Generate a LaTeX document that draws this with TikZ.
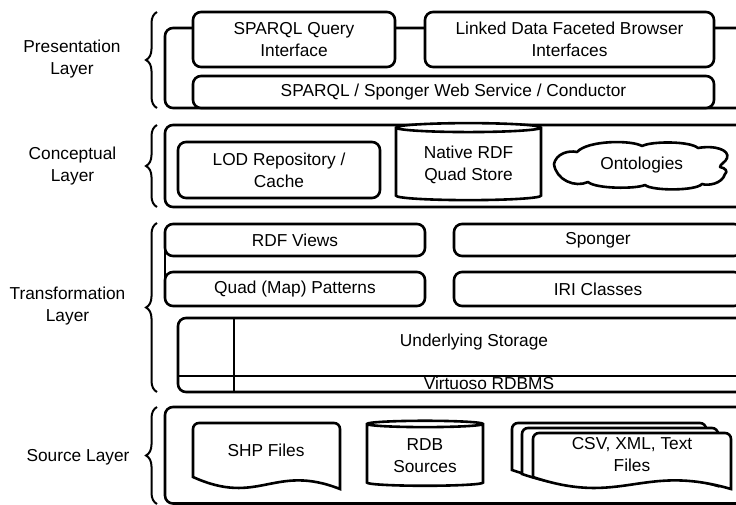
\documentclass[tikz,border=0pt]{standalone}
\usepackage{fontspec}
\setmainfont{Liberation Sans}
\usetikzlibrary{shapes.geometric,decorations.pathreplacing}

\tikzset{
  box/.style={draw, line width=2.6pt, rounded corners=8pt, fill=white,
    align=center, inner sep=0pt},
  frame/.style={draw, line width=2.6pt, rounded corners=8pt},
  db/.style={draw, line width=2.6pt, cylinder, shape border rotate=90,
    aspect=0.1, fill=white, align=center, inner sep=0pt},
  doc/.style={draw, line width=2.6pt, fill=white},
  layerbrace/.style={draw, line width=2pt, decorate,
    decoration={brace, amplitude=11pt}},
}

% document shape: x, y, width, height of left side
\newcommand{\docshape}[4]{
  \draw[doc] (#1,#2+#4) [rounded corners=6pt]-- (#1,#2) -- (#1+#3,#2)
    [sharp corners]-- (#1+#3,#2+#4+12)
    .. controls (#1+0.55*#3,#2+#4-14) and (#1+0.45*#3,#2+#4+30) .. (#1,#2+#4)
    -- cycle;
}

\begin{document}
\begin{tikzpicture}[x=1pt, y=-1pt, font=\fontsize{17.3}{22}\selectfont]
  \useasboundingbox (0,0) rectangle (736,504);
  \clip (0,0) rectangle (736,504);

  % layer names
  \node[align=center] (pres) at (72,59) {Presentation\\Layer};
  \node[align=center] (concept) at (72.5,166) {Conceptual\\Layer};
  \node[align=center] (transf) at (67.5,306) {Transformation\\Layer};
  \node (source) at (78,457) {Source Layer};

  \draw[layerbrace] (157,108) -- (157,12);
  \draw[layerbrace] (157,207) -- (157,125);
  \draw[layerbrace] (157,392) -- (157,223);
  \draw[layerbrace] (157,504) -- (157,407);

  % presentation
  \draw[frame] (165,28) rectangle (760,108);
  \node[box, minimum width=202pt, minimum height=55pt] (query) at (294,39.5) {SPARQL Query\\Interface};
  \node[box, minimum width=289pt, minimum height=55pt] (browser) at (569.5,39.5) {Linked Data Faceted Browser\\Interfaces};
  \node[box, minimum width=521pt, minimum height=32pt] (service) at (453.5,92) {SPARQL / Sponger Web Service / Conductor};

  % conceptual
  \draw[frame] (165,125) rectangle (760,207);
  \node[box, minimum width=202pt, minimum height=56pt] (lod) at (279,170) {LOD Repository /\\Cache};
  \node[db, minimum width=145pt, minimum height=77pt] (quad) at (468.5,164.5) {Native RDF\\Quad Store};
  \draw[doc, line join=round] (554,164)
    .. controls (556,154) and (568,150) .. (577,152)
    .. controls (588,140) and (632,140) .. (642,146)
    .. controls (652,141) and (690,141) .. (698,148)
    .. controls (715,145) and (730,150) .. (727,158)
    .. controls (726,162) and (720,164) .. (720,167)
    .. controls (726,168) and (728,172) .. (725,174)
    .. controls (722,184) and (708,186) .. (702,184)
    .. controls (696,191) and (652,191) .. (645,185)
    .. controls (636,189) and (596,189) .. (588,182)
    .. controls (575,188) and (556,180) .. (554,164) -- cycle;
  \node (onto) at (641.7,165) {Ontologies};

  % transformation
  \draw[line width=2.6pt] (165,240) -- (165,289);
  \node[box, minimum width=260pt, minimum height=32pt] (views) at (295,240) {RDF Views};
  \node[box, minimum width=288pt, minimum height=32pt] (sponger) at (598,240) {Sponger};
  \node[box, minimum width=260pt, minimum height=34pt] (patterns) at (295,289) {Quad (Map) Patterns};
  \node[box, minimum width=288pt, minimum height=34pt] (iri) at (598,289) {IRI Classes};
  \draw[frame] (178,318) rectangle (760,392);
  \draw[line width=2.6pt] (234,318) -- (234,392);
  \draw[line width=2.6pt] (178,376) -- (760,376);
  \node (storage) at (474,342) {Underlying Storage};
  \node (rdbms) at (489,383) {Virtuoso RDBMS};

  % source
  \draw[frame] (165,407) rectangle (760,503.5);
  \docshape{193}{423}{147}{54}
  \node (shp) at (266,450) {SHP Files};
  \node[db, minimum width=116pt, minimum height=65pt] (rdb) at (425,455.5) {RDB\\Sources};
  \docshape{512}{423}{194}{47}
  \docshape{522}{428}{196}{46}
  \docshape{533}{433}{198}{44}
  \node[align=center] (files) at (632,455) {CSV, XML, Text\\Files};
\end{tikzpicture}
\end{document}
